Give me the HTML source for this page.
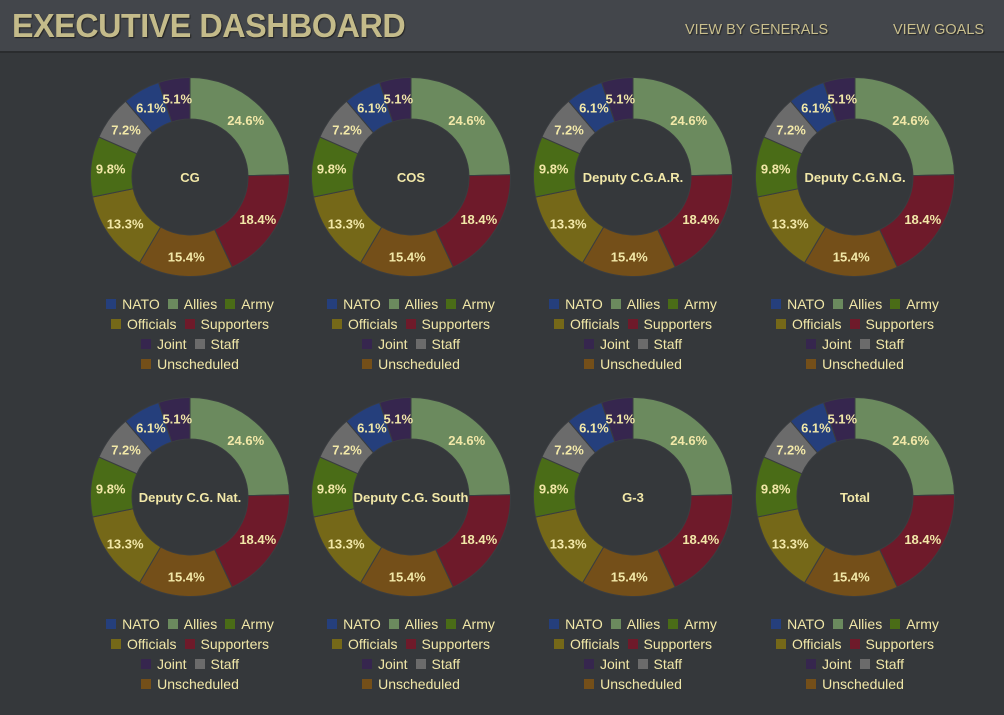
<!DOCTYPE html>
<html><head><meta charset="utf-8">
<style>
body{margin:0;width:1004px;height:715px;background:#35383b;font-family:"Liberation Sans",sans-serif;overflow:hidden;position:relative}
#hdr{position:absolute;left:0;top:0;width:1004px;height:51px;background:#43464b;border-bottom:2px solid #2a2c2e}
#title{position:absolute;left:12px;top:7px;font-size:33px;font-weight:bold;color:#c4bb8a;letter-spacing:-0.5px;text-shadow:1px 1px 1px #222;transform:scaleX(0.98);transform-origin:left}
.nav{position:absolute;top:22px;font-size:14.5px;color:#c9bf8e;text-shadow:1px 1px 1px #222}
svg{position:absolute;left:0;top:0}
.leg{position:absolute;width:220px;font-size:14px;color:#f2e8a8}
.lr{display:flex;justify-content:center;height:20px;align-items:center}
.li{display:flex;align-items:center;margin:0 4px}
.sw{width:10px;height:10px;margin-right:6px}
</style></head><body>
<div id="hdr">
<div id="title">EXECUTIVE DASHBOARD</div>
<div class="nav" style="left:685px">VIEW BY GENERALS</div>
<div class="nav" style="left:893px">VIEW GOALS</div>
</div>
<svg id="chart" width="1004" height="715"></svg>
<script>
const sliceNames=["Allies","Supporters","Unscheduled","Officials","Army","Staff","NATO","Joint"];
const sliceValues=[24.6,18.4,15.4,13.3,9.8,7.2,6.1,5.1];
const sliceColors=["#6b8a5e","#6e1a2a","#744f19","#756818","#4a6c17","#6b6b6b","#253f7c","#36264e"];
const chartTitles=["CG","COS","Deputy C.G.A.R.","Deputy C.G.N.G.","Deputy C.G. Nat.","Deputy C.G. South","G-3","Total"];
const legendRows=[["NATO","Allies","Army"],["Officials","Supporters"],["Joint","Staff"],["Unscheduled"]];
const NS="http://www.w3.org/2000/svg";
const svg=document.getElementById('chart');
const cxs=[190,411,633,855], cys=[177,497];
const R=99.5, r=58;
function pt(cx,cy,rad,a){return [cx+rad*Math.sin(a),cy-rad*Math.cos(a)];}
chartTitles.forEach((t,ci)=>{
  const cx=cxs[ci%4], cy=cys[Math.floor(ci/4)];
  const total=sliceValues.reduce((a,b)=>a+b,0);
  let a0=0;
  sliceValues.forEach((v,i)=>{
    const a1=a0+v/total*2*Math.PI;
    const [x1,y1]=pt(cx,cy,R,a0),[x2,y2]=pt(cx,cy,R,a1),[x3,y3]=pt(cx,cy,r,a1),[x4,y4]=pt(cx,cy,r,a0);
    const lg=(a1-a0)>Math.PI?1:0;
    const p=document.createElementNS(NS,'path');
    p.setAttribute('d',`M${x1},${y1}A${R},${R} 0 ${lg} 1 ${x2},${y2}L${x3},${y3}A${r},${r} 0 ${lg} 0 ${x4},${y4}Z`);
    p.setAttribute('fill',sliceColors[i]);p.setAttribute('stroke','#3a3d40');p.setAttribute('stroke-width','1');
    
    
    svg.appendChild(p);
    const [lx,ly]=pt(cx,cy,(R+r)/2+1,(a0+a1)/2);
    const tx=document.createElementNS(NS,'text');
    tx.setAttribute('x',lx);tx.setAttribute('y',ly+5);tx.setAttribute('text-anchor','middle');
    tx.setAttribute('font-size','13');tx.setAttribute('font-weight','bold');tx.setAttribute('fill','#f2e8a8');
    tx.setAttribute('font-family','Liberation Sans, sans-serif');
    tx.textContent=v.toFixed(1)+'%';
    
    
    svg.appendChild(tx);
    a0=a1;
  });
  const ct=document.createElementNS(NS,'text');
  ct.setAttribute('x',cx);ct.setAttribute('y',cy+5);ct.setAttribute('text-anchor','middle');
  ct.setAttribute('font-size','13');ct.setAttribute('font-weight','bold');ct.setAttribute('fill','#f2e8a8');
  ct.setAttribute('font-family','Liberation Sans, sans-serif');
  ct.textContent=t;
  
  
  svg.appendChild(ct);
  const leg=document.createElement('div');
  leg.className='leg';leg.style.left=(cx-110)+'px';leg.style.top=(cy+117)+'px';
  
  
  legendRows.forEach(row=>{
    const rd=document.createElement('div');rd.className='lr';
    row.forEach(n=>{
      const it=document.createElement('div');it.className='li';
      
      
      const sw=document.createElement('div');sw.className='sw';sw.style.background=sliceColors[sliceNames.indexOf(n)];
      it.appendChild(sw);it.appendChild(document.createTextNode(n));rd.appendChild(it);
    });
    leg.appendChild(rd);
  });
  document.body.appendChild(leg);
});
</script>
</body></html>
